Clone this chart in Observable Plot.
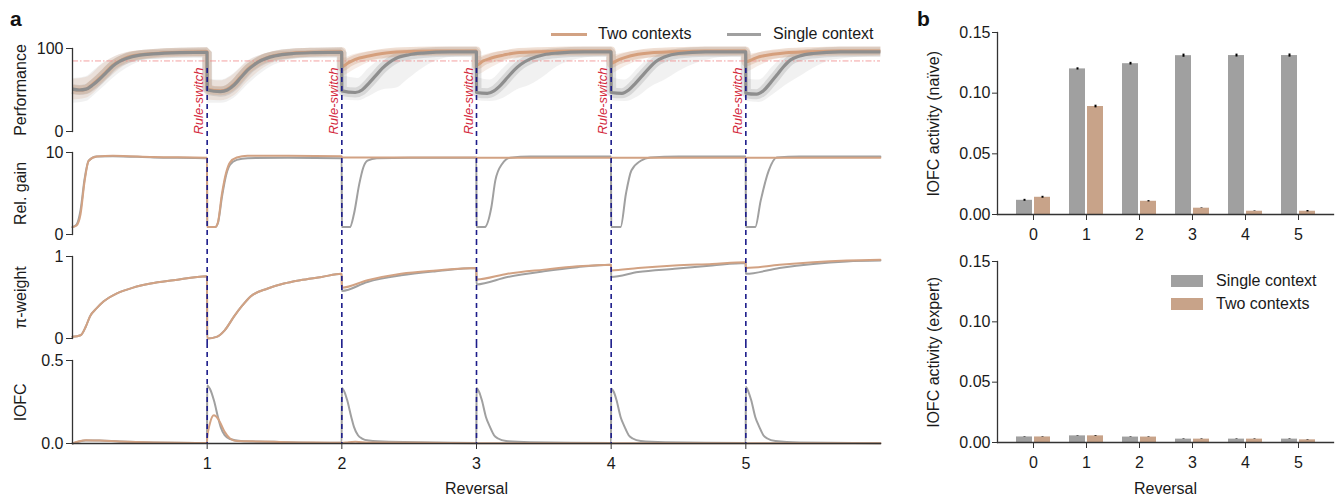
<!DOCTYPE html>
<html><head><meta charset="utf-8">
<script src="https://cdn.jsdelivr.net/npm/d3@7"></script>
<script src="https://cdn.jsdelivr.net/npm/@observablehq/plot@0.6"></script>
<style>
body{margin:0;background:#fff;font-family:"Liberation Sans",Arial,Helvetica,sans-serif;}
#root{position:relative;width:1341px;height:501px;overflow:hidden;background:#fff;}
.leg{position:absolute;font-size:16px;line-height:16px;color:#1a1a1a;white-space:nowrap;}
.tag{position:absolute;font-size:21px;line-height:21px;font-weight:bold;color:#111;}
</style></head><body><div id="root"></div>
<script>
// ---------------- data ----------------
const reversals = [1, 2, 3, 4, 5];
const perfCriterion = [85];
// Performance (%): mean curves [reversal-time, value]
const perfTwoMean = [[0,51],[0.05,50],[0.1,51],[0.15,57],[0.2,64],[0.25,72],[0.3,80],[0.35,85],[0.4,89],[0.5,92.5],[0.6,94],[0.8,95.5],[0.999,96],
[1,51],[1.1,49],[1.15,51],[1.2,57],[1.25,66],[1.3,75],[1.35,81],[1.4,86],[1.5,91.5],[1.64,94.5],[1.8,95.5],[1.999,96],
[2,78],[2.05,83],[2.1,87],[2.2,91],[2.3,94],[2.45,96],[2.7,97],[2.999,97],
[3,80],[3.05,85],[3.1,88],[3.2,92],[3.3,95],[3.45,96],[3.7,97],[3.999,97],
[4,82],[4.05,86],[4.1,89],[4.2,93],[4.3,95],[4.45,96],[4.7,97],[4.999,97],
[5,84],[5.05,87],[5.1,90],[5.2,93],[5.3,95],[5.45,96],[5.7,97],[5.999,97]];
const perfSingleMean = [[0,51],[0.05,50],[0.1,51],[0.15,56],[0.2,63],[0.25,71],[0.3,79],[0.35,84.5],[0.4,88],[0.5,92],[0.6,93.5],[0.8,95],[0.999,95.5],
[1,50],[1.1,48],[1.15,50],[1.2,56],[1.25,65],[1.3,74],[1.35,80.5],[1.4,85.5],[1.5,91],[1.64,94],[1.8,95],[1.999,95.5],
[2,49],[2.1,47],[2.15,50],[2.2,58],[2.25,67],[2.3,76],[2.35,83],[2.4,88],[2.5,92.5],[2.6,94.5],[2.8,96],[2.999,96],
[3,47],[3.08,46],[3.13,49],[3.18,56],[3.23,65],[3.28,74],[3.33,81],[3.4,87.5],[3.5,92.5],[3.6,94.5],[3.8,96],[3.999,96],
[4,47],[4.08,46],[4.13,50],[4.18,58],[4.23,67],[4.28,76],[4.33,84],[4.4,90],[4.5,94],[4.7,96],[4.999,96],
[5,46],[5.08,45],[5.13,49],[5.18,58],[5.23,68],[5.28,78],[5.33,86],[5.4,91],[5.5,94],[5.7,96],[5.999,96]];
// Performance spread of individual runs [t, low, high]
const perfSingleBand = [[0,34,64],[0.1,36,66],[0.15,42,72],[0.2,49,79],[0.3,64,89],[0.4,76,95],[0.5,84,97],[0.7,90,98],[0.999,91,99],
[1,34,64],[1.1,34,62],[1.2,40,70],[1.3,56,85],[1.4,70,92],[1.5,80,96],[1.65,87,97],[1.8,90,98],[1.999,91,99],
[2,38,68],[2.12,37,64],[2.2,42,76],[2.3,50,88],[2.4,52,94],[2.5,64,96],[2.6,76,97],[2.7,85,98],[2.85,90,98],[2.999,91,99],
[3,37,66],[3.1,36,62],[3.2,40,76],[3.3,50,90],[3.4,56,95],[3.5,66,96],[3.6,78,97],[3.75,87,98],[3.999,91,99],
[4,37,66],[4.1,36,62],[4.2,42,76],[4.3,54,90],[4.4,62,95],[4.5,72,96],[4.65,83,97],[4.8,89,98],[4.999,91,99],
[5,36,64],[5.1,35,62],[5.2,44,78],[5.3,56,92],[5.4,66,95],[5.5,76,97],[5.65,86,98],[5.999,91,99]];
const perfTwoBand = [[0,38,63],[0.1,40,65],[0.15,45,70],[0.2,53,78],[0.3,68,89],[0.4,80,95],[0.5,86,97],[0.7,90,98],[0.999,91,99],
[1,38,63],[1.1,37,61],[1.2,43,69],[1.3,60,84],[1.4,74,92],[1.5,83,96],[1.65,88,97],[1.8,90,98],[1.999,91,99],
[2,67,88],[2.1,75,93],[2.2,83,96],[2.35,88,98],[2.6,91,99],[2.999,92,99],
[3,68,90],[3.1,76,94],[3.2,84,97],[3.35,89,98],[3.6,92,99],[3.999,92,99],
[4,70,92],[4.1,78,95],[4.2,85,97],[4.35,90,98],[4.6,92,99],[4.999,92,99],
[5,72,93],[5.1,79,95],[5.2,86,97],[5.35,90,98],[5.6,92,99],[5.999,92,99]];
// Relative gain
const gainTwo = [[0,0.9],[0.03,1.1],[0.06,2.5],[0.09,6.5],[0.12,9.0],[0.18,9.5],[0.3,9.6],[0.6,9.45],[0.999,9.35],
[1,0.9],[1.06,0.9],[1.08,1.5],[1.11,5.0],[1.14,7.5],[1.17,8.8],[1.22,9.4],[1.3,9.6],[1.6,9.6],[1.999,9.55],
[2,9.4],[2.5,9.4],[2.999,9.4],[3,9.35],[3.5,9.35],[3.999,9.35],[4,9.35],[4.5,9.35],[4.999,9.35],[5,9.35],[5.5,9.35],[5.999,9.35]];
const gainSingle = [[0,0.9],[0.03,1.2],[0.06,3.0],[0.09,6.8],[0.12,9.0],[0.18,9.5],[0.3,9.55],[0.6,9.4],[0.999,9.3],
[1,0.9],[1.06,0.9],[1.08,1.4],[1.11,4.6],[1.14,7.2],[1.17,8.5],[1.22,9.1],[1.3,9.3],[1.6,9.35],[1.999,9.3],
[2,0.9],[2.06,0.9],[2.09,2.5],[2.13,6.2],[2.16,8.2],[2.19,9.0],[2.26,9.3],[2.5,9.35],[2.999,9.35],
[3,0.9],[3.06,0.9],[3.11,3.3],[3.14,6.6],[3.19,8.6],[3.25,9.35],[3.4,9.5],[3.999,9.5],
[4,0.9],[4.07,0.9],[4.11,5.0],[4.15,7.8],[4.22,9.0],[4.29,9.4],[4.5,9.5],[4.999,9.5],
[5,0.9],[5.07,0.9],[5.11,4.1],[5.17,7.8],[5.23,9.4],[5.4,9.5],[5.999,9.5]];
// pi-weight
const piTwo = [[0,0.02],[0.06,0.04],[0.1,0.15],[0.13,0.27],[0.18,0.37],[0.23,0.45],[0.33,0.55],[0.45,0.62],[0.58,0.67],[0.75,0.71],[0.999,0.76],
[1,0.0],[1.07,0.02],[1.13,0.1],[1.2,0.27],[1.26,0.4],[1.32,0.51],[1.45,0.61],[1.57,0.67],[1.69,0.71],[1.85,0.75],[1.999,0.79],
[2,0.62],[2.19,0.71],[2.44,0.79],[2.7,0.83],[2.999,0.86],
[3,0.72],[3.23,0.79],[3.5,0.84],[3.75,0.88],[3.999,0.9],
[4,0.83],[4.2,0.86],[4.47,0.89],[4.75,0.91],[4.999,0.93],
[5,0.86],[5.25,0.9],[5.5,0.93],[5.75,0.95],[5.999,0.96]];
const piSingle = [[0,0.02],[0.06,0.04],[0.1,0.15],[0.13,0.27],[0.18,0.37],[0.23,0.45],[0.33,0.55],[0.45,0.62],[0.58,0.67],[0.75,0.71],[0.999,0.76],
[1,0.0],[1.07,0.02],[1.13,0.1],[1.2,0.27],[1.26,0.4],[1.32,0.51],[1.45,0.61],[1.57,0.67],[1.69,0.71],[1.85,0.75],[1.999,0.79],
[2,0.58],[2.19,0.69],[2.44,0.77],[2.7,0.82],[2.999,0.86],
[3,0.66],[3.23,0.75],[3.5,0.82],[3.75,0.87],[3.999,0.9],
[4,0.75],[4.2,0.81],[4.47,0.85],[4.75,0.89],[4.999,0.92],
[5,0.79],[5.25,0.86],[5.5,0.91],[5.75,0.94],[5.999,0.95]];
// lOFC activity
const ofcSingle = [[0,0],[0.05,0.012],[0.1,0.018],[0.2,0.018],[0.35,0.012],[0.6,0.006],[0.999,0.003],
[1,0.35],[1.02,0.33],[1.05,0.26],[1.08,0.16],[1.1,0.1],[1.13,0.05],[1.17,0.027],[1.25,0.015],[1.5,0.01],[1.999,0.004],
[2,0.335],[2.02,0.31],[2.04,0.26],[2.07,0.16],[2.09,0.1],[2.12,0.05],[2.15,0.03],[2.2,0.018],[2.35,0.01],[2.999,0.003],
[3,0.335],[3.02,0.31],[3.04,0.26],[3.07,0.16],[3.1,0.1],[3.13,0.05],[3.16,0.03],[3.22,0.015],[3.4,0.008],[3.999,0.003],
[4,0.33],[4.02,0.31],[4.04,0.26],[4.07,0.16],[4.1,0.1],[4.13,0.05],[4.16,0.03],[4.22,0.015],[4.4,0.008],[4.999,0.003],
[5,0.34],[5.02,0.31],[5.04,0.26],[5.07,0.16],[5.1,0.1],[5.13,0.05],[5.16,0.03],[5.22,0.015],[5.4,0.006],[5.999,0.002]];
const ofcTwo = [[0,0],[0.05,0.014],[0.1,0.02],[0.2,0.018],[0.35,0.012],[0.6,0.006],[0.999,0.003],
[1,0.03],[1.02,0.12],[1.05,0.17],[1.08,0.15],[1.1,0.12],[1.13,0.07],[1.17,0.03],[1.22,0.015],[1.4,0.012],[1.6,0.008],[1.999,0.004],
[2,0.003],[2.05,0.008],[2.1,0.01],[2.2,0.006],[2.999,0.002],
[3,0.001],[3.999,0.001],[4,0.001],[4.999,0.001],[5,0.001],[5.999,0.001]];
// Bar charts (panel b)
const categories = [0, 1, 2, 3, 4, 5];
const naiveSingle = [0.0117, 0.1200, 0.1243, 0.1309, 0.1310, 0.1310];
const naiveSingleErr = [0.0008, 0.0009, 0.0011, 0.0013, 0.0012, 0.0013];
const naiveTwo = [0.0142, 0.0890, 0.0109, 0.0052, 0.0027, 0.0027];
const naiveTwoErr = [0.0008, 0.0011, 0.0005, 0.0002, 0.0002, 0.0006];
const expertSingle = [0.0046, 0.0055, 0.0045, 0.0028, 0.0028, 0.0028];
const expertSingleErr = [0.0002, 0.0002, 0.0002, 0.0002, 0.0002, 0.0002];
const expertTwo = [0.0046, 0.0055, 0.0045, 0.0028, 0.0028, 0.0022];
const expertTwoErr = [0.0002, 0.0003, 0.0002, 0.0002, 0.0002, 0.0002];

// ---------------- style ----------------
const FONT = '"Liberation Sans", Arial, Helvetica, sans-serif';
const TXT = "#1a1a1a", AXIS = "#333";
const ORANGE = "#d2a283", GREY = "#a0a0a0";
const ORANGE_MEAN = "#d59f7c", GREY_MEAN = "#8e8e8e";
const BAR_GREY = "#a0a0a0", BAR_ORANGE = "#c8a389";
const NAVY = "#1c1c8a", RED = "#d3283c";
const baseStyle = {fontFamily: FONT, fontSize: "16px", color: TXT, background: "transparent", overflow: "visible"};
const root = document.getElementById("root");
function place(el, left, top) {
  const d = document.createElement("div");
  d.style.cssText = `position:absolute;left:${left}px;top:${top}px;`;
  d.appendChild(el); root.appendChild(d);
}
const T = d => d[0], V = d => d[1];
const yLabel = (label, dx) => Plot.text([label], {text: d => d, frameAnchor: "left", textAnchor: "middle", lineAnchor: "middle", dx, rotate: -90, fontSize: 16, fill: TXT});
const xLabel = (label, dy) => Plot.text([label], {text: d => d, frameAnchor: "bottom", textAnchor: "middle", lineAnchor: "middle", dy, fontSize: 16, fill: TXT});

function leftPanel(o) {
  return Plot.plot({
    width: 900, height: o.height, marginLeft: 72, marginRight: 20, marginTop: o.mt, marginBottom: o.mb,
    style: baseStyle,
    x: {domain: [0, 6], axis: null},
    y: {domain: o.ydomain},
    marks: [
      ...o.marks,
      Plot.ruleX(reversals, {stroke: NAVY, strokeWidth: 1.6, strokeDasharray: "5,4", insetTop: o.dashTop, insetBottom: o.dashBottom}),
      Plot.frame({anchor: "left", stroke: AXIS, strokeWidth: 1.3}),
      Plot.axisY(o.yticks, {tickSize: 6, tickPadding: 3, tickFormat: o.fmt, label: null, stroke: AXIS}),
      yLabel(o.ylabel, -52),
      ...(o.extra || [])
    ]
  });
}

// Performance
place(leftPanel({
  height: 140, mt: 48, mb: 9, ydomain: [0, 100], yticks: [0, 100], fmt: d => String(d), ylabel: "Performance",
  dashTop: 20, dashBottom: -9,
  marks: [
    Plot.areaY(perfSingleBand, {x: T, y1: d => d[1], y2: d => d[2], fill: GREY, fillOpacity: 0.15, curve: "monotone-x"}),
    Plot.areaY(perfTwoBand, {x: T, y1: d => d[1], y2: d => d[2], fill: ORANGE, fillOpacity: 0.2, curve: "monotone-x"}),
    Plot.lineY(perfSingleMean, {x: T, y: V, stroke: GREY, strokeOpacity: 0.3, strokeWidth: 10, strokeLinecap: "butt", strokeLinejoin: "miter", curve: "monotone-x"}),
    Plot.lineY(perfTwoMean, {x: T, y: V, stroke: ORANGE, strokeOpacity: 0.35, strokeWidth: 9, strokeLinecap: "butt", strokeLinejoin: "miter", curve: "monotone-x"}),
    Plot.ruleY(perfCriterion, {stroke: "#f08a8a", strokeOpacity: 0.8, strokeWidth: 1, strokeDasharray: "6,2,1.5,2"}),
    Plot.lineY(perfTwoMean, {x: T, y: V, stroke: ORANGE_MEAN, strokeWidth: 3, strokeLinecap: "butt", curve: "monotone-x"}),
    Plot.lineY(perfSingleMean, {x: T, y: V, stroke: GREY_MEAN, strokeWidth: 3.2, strokeLinecap: "butt", curve: "monotone-x"}),
    Plot.text(reversals, {x: d => d, text: () => "Rule-switch", frameAnchor: "middle", textAnchor: "middle", lineAnchor: "middle", rotate: -90, dx: -8, dy: 11, fill: RED, fontSize: 13, fontStyle: "italic"})
  ]
}), 0, 0);

// Rel. gain
place(leftPanel({
  height: 100, mt: 12, mb: 6, ydomain: [0, 10], yticks: [0, 10], fmt: d => String(d), ylabel: "Rel. gain",
  dashTop: -12, dashBottom: -6,
  marks: [
    Plot.lineY(gainSingle, {x: T, y: V, stroke: GREY, strokeWidth: 2, curve: "monotone-x"}),
    Plot.lineY(gainTwo, {x: T, y: V, stroke: ORANGE, strokeWidth: 2, curve: "monotone-x"})
  ]
}), 0, 140);

// pi-weight
place(leftPanel({
  height: 103, mt: 16, mb: 5, ydomain: [0, 1], yticks: [0, 1], fmt: d => String(d), ylabel: "π-weight",
  dashTop: -16, dashBottom: -5,
  marks: [
    Plot.lineY(piSingle, {x: T, y: V, stroke: GREY, strokeWidth: 2, curve: "monotone-x"}),
    Plot.lineY(piTwo, {x: T, y: V, stroke: ORANGE, strokeWidth: 2, curve: "monotone-x"})
  ]
}), 0, 240);

// lOFC
place(leftPanel({
  height: 158, mt: 17, mb: 58, ydomain: [0, 0.5], yticks: [0, 0.5], fmt: d3.format(".1f"), ylabel: "lOFC",
  dashTop: -17, dashBottom: 0,
  marks: [
    Plot.lineY(ofcSingle, {x: T, y: V, stroke: GREY, strokeWidth: 2, curve: "monotone-x"}),
    Plot.lineY(ofcTwo, {x: T, y: V, stroke: ORANGE, strokeWidth: 2, curve: "monotone-x"})
  ],
  extra: [
    Plot.frame({anchor: "bottom", stroke: AXIS, strokeWidth: 1.3}),
    Plot.axisX(reversals, {tickSize: 6, tickPadding: 8, tickFormat: d => String(d), label: null, stroke: AXIS}),
    xLabel("Reversal", 45)
  ]
}), 0, 343);

// ---------------- panel b ----------------
function barPanel(o) {
  const rowsS = categories.map((c, i) => ({cat: c, v: o.single[i], e: o.singleErr[i]}));
  const rowsT = categories.map((c, i) => ({cat: c, v: o.two[i], e: o.twoErr[i]}));
  return Plot.plot({
    width: 461, height: o.height, marginLeft: 117, marginRight: 8, marginTop: o.mt, marginBottom: o.mb,
    style: baseStyle,
    x: {type: "band", domain: categories, paddingInner: 0.35, paddingOuter: 0.175, insetLeft: 7, insetRight: 6},
    y: {domain: [0, 0.15]},
    marks: [
      Plot.barY(rowsS, {x: "cat", y: "v", fill: BAR_GREY, insetRight: 18}),
      Plot.barY(rowsT, {x: "cat", y: "v", fill: BAR_ORANGE, insetLeft: 18}),
      Plot.ruleX(rowsS, {x: "cat", y1: d => d.v - d.e, y2: d => d.v + d.e, dx: -9, stroke: "#000", strokeWidth: 2}),
      Plot.ruleX(rowsT, {x: "cat", y1: d => d.v - d.e, y2: d => d.v + d.e, dx: 9, stroke: "#000", strokeWidth: 2}),
      Plot.frame({anchor: "left", stroke: AXIS, strokeWidth: 1.3}),
      Plot.frame({anchor: "bottom", stroke: AXIS, strokeWidth: 1.3}),
      Plot.axisY([0, 0.05, 0.1, 0.15], {tickSize: 5, tickPadding: 2, tickFormat: d3.format(".2f"), label: null, stroke: AXIS}),
      Plot.axisX(categories, {tickSize: 6, tickPadding: 8, tickFormat: d => String(d), label: null, stroke: AXIS}),
      yLabel(o.ylabel, -64),
      ...(o.xlabel ? [xLabel("Reversal", 46)] : [])
    ]
  });
}
place(barPanel({height: 250, mt: 32, mb: 36, single: naiveSingle, singleErr: naiveSingleErr, two: naiveTwo, twoErr: naiveTwoErr,
  ylabel: "lOFC activity (naïve)", xlabel: false}), 880, 0);
place(barPanel({height: 251, mt: 11, mb: 59, single: expertSingle, singleErr: expertSingleErr, two: expertTwo, twoErr: expertTwoErr,
  ylabel: "lOFC activity (expert)", xlabel: true}), 880, 250);

// ---------------- legends & tags ----------------
function html(tag, cls, css, text) {
  const e = document.createElement(tag); if (cls) e.className = cls; e.style.cssText = css; if (text) e.textContent = text; root.appendChild(e); return e;
}
html("div", "tag", "left:10px;top:8px;", "a");
html("div", "tag", "left:917px;top:8px;", "b");
html("div", "", `position:absolute;left:551px;top:33px;width:36px;height:3px;background:${ORANGE};`);
html("div", "leg", "left:598px;top:26px;", "Two contexts");
html("div", "", `position:absolute;left:727px;top:33px;width:34px;height:3px;background:${GREY};`);
html("div", "leg", "left:773px;top:26px;", "Single context");
html("div", "", `position:absolute;left:1171px;top:275px;width:32px;height:12px;background:${BAR_GREY};`);
html("div", "leg", "left:1216px;top:273px;", "Single context");
html("div", "", `position:absolute;left:1171px;top:298px;width:32px;height:12px;background:${BAR_ORANGE};`);
html("div", "leg", "left:1216px;top:296px;", "Two contexts");
</script></body></html>
